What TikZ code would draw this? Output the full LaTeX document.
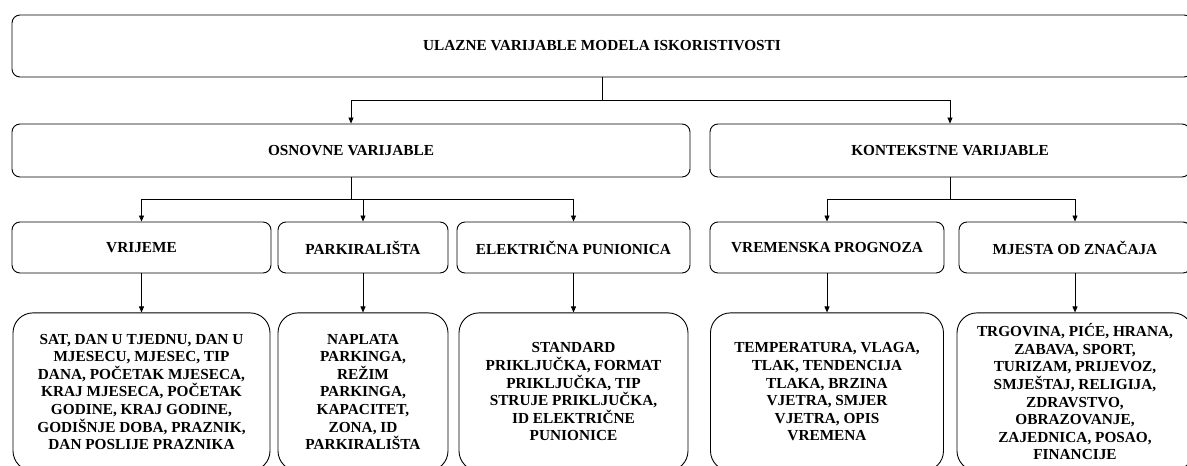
\documentclass[tikz,border=0pt]{standalone}
\usepackage{fontspec}
\setmainfont{Liberation Serif}
\usepackage{tikz}
\usetikzlibrary{arrows.meta,positioning}

\begin{document}
\begin{tikzpicture}[x=1pt, y=1pt,
    box/.style={rectangle, draw, line width=0.9pt, rounded corners=8pt, align=center,
        font=\fontsize{15.3}{17}\selectfont\bfseries, inner sep=0pt},
    cat/.style={box, minimum height=51pt},
    leaf/.style={box, rounded corners=20pt, minimum height=158pt,
        font=\fontsize{15.3}{17.6}\selectfont\bfseries},
    conn/.style={-{Triangle[length=6pt,width=5pt]}, line width=0.8pt},
    link/.style={line width=0.8pt}]

    \useasboundingbox (0,0) rectangle (1187,466);
    \clip (0,0) rectangle (1187,466);

    % Nodes
    \node[box, minimum width=1180pt, minimum height=62pt] (root) at (602,420) {ULAZNE VARIJABLE MODELA ISKORISTIVOSTI};
    \node[box, minimum width=678pt, minimum height=53pt] (osn) at (351,315.5) {OSNOVNE VARIJABLE};
    \node[box, minimum width=480pt, minimum height=53pt] (kon) at (950,315.5) {KONTEKSTNE VARIJABLE};

    \node[cat, minimum width=259pt] (vri) at (141.5,218.5) {VRIJEME};
    \node[cat, minimum width=170pt] (par) at (363,218.5) {PARKIRALIŠTA};
    \node[cat, minimum width=233pt] (ele) at (573.5,218.5) {ELEKTRIČNA PUNIONICA};
    \node[cat, minimum width=234pt] (vre) at (827,218.5) {VREMENSKA PROGNOZA};
    \node[cat, minimum width=232pt] (mje) at (1075,218.5) {MJESTA OD ZNAČAJA};

    \node[leaf, minimum width=257pt, below=39pt of vri] (vril) {SAT, DAN U TJEDNU, DAN U\\MJESECU, MJESEC, TIP\\DANA, POČETAK MJESECA,\\KRAJ MJESECA, POČETAK\\GODINE, KRAJ GODINE,\\GODIŠNJE DOBA, PRAZNIK,\\DAN POSLIJE PRAZNIKA};
    \node[leaf, minimum width=170pt, below=39pt of par] (parl) {NAPLATA\\PARKINGA,\\REŽIM\\PARKINGA,\\KAPACITET,\\ZONA, ID\\PARKIRALIŠTA};
    \node[leaf, minimum width=229pt, below=39pt of ele] (elel) {STANDARD\\PRIKLJUČKA, FORMAT\\PRIKLJUČKA, TIP\\STRUJE PRIKLJUČKA,\\ID ELEKTRIČNE\\PUNIONICE};
    \node[leaf, minimum width=233pt, below=39pt of vre] (vrel) {TEMPERATURA, VLAGA,\\TLAK, TENDENCIJA\\TLAKA, BRZINA\\VJETRA, SMJER\\VJETRA, OPIS\\VREMENA};
    \node[leaf, minimum width=236pt, below=39pt of mje] (mjel) {TRGOVINA, PIĆE, HRANA,\\ZABAVA, SPORT,\\TURIZAM, PRIJEVOZ,\\SMJEŠTAJ, RELIGIJA,\\ZDRAVSTVO,\\OBRAZOVANJE,\\ZAJEDNICA, POSAO,\\FINANCIJE};

    % Junctions
    \coordinate[below=23pt of root] (j0);
    \coordinate[below=22pt of osn] (j1);
    \coordinate[below=22pt of kon] (j2);

    % Connections
    \draw[link] (root) -- (j0);
    \draw[conn] (j0) -| (osn);
    \draw[conn] (j0) -| (kon);

    \draw[link] (osn) -- (j1);
    \draw[conn] (j1) -| (vri);
    \draw[conn] (j1) -| (par);
    \draw[conn] (j1) -| (ele);

    \draw[link] (kon) -- (j2);
    \draw[conn] (j2) -| (vre);
    \draw[conn] (j2) -| (mje);

    \draw[conn] (vri) -- (vril);
    \draw[conn] (par) -- (parl);
    \draw[conn] (ele) -- (elel);
    \draw[conn] (vre) -- (vrel);
    \draw[conn] (mje) -- (mjel);

\end{tikzpicture}
\end{document}
